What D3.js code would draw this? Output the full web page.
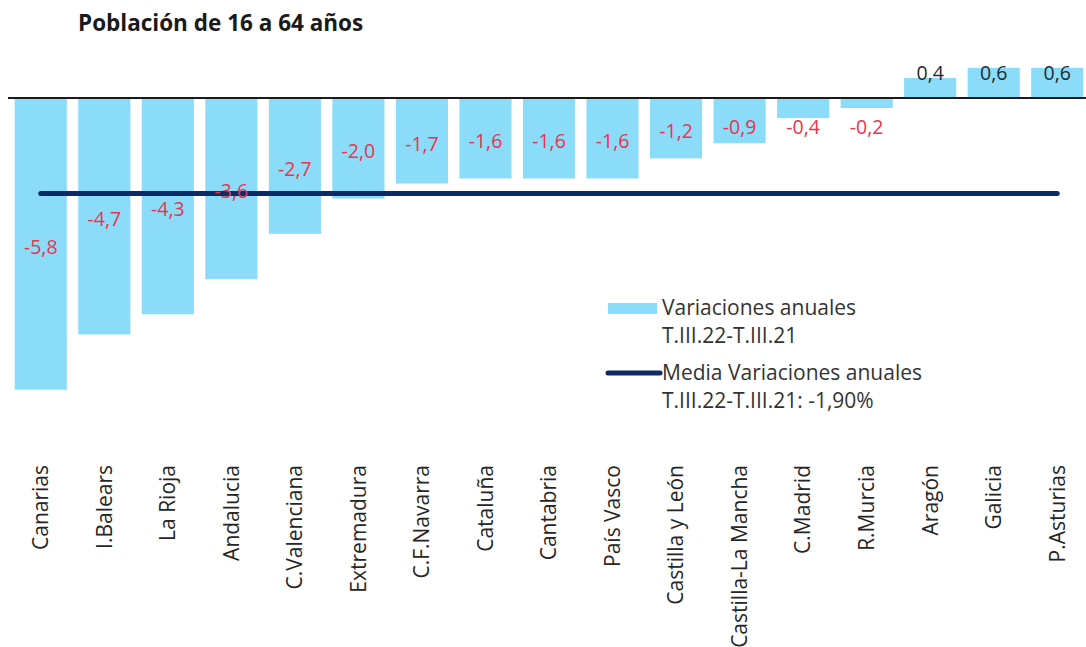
<!DOCTYPE html>
<html>
<head>
<meta charset="utf-8">
<script src="https://cdn.jsdelivr.net/npm/d3@7"></script>
<style>
    body { margin: 0; background: #fff; }
    text { font-family: "Open Sans", sans-serif; }
</style>
</head>
<body>
<script>
// Población de 16 a 64 años, variaciones anuales T.III.22-T.III.21
var regiones = ["Canarias", "I.Balears", "La Rioja", "Andalucia",
    "C.Valenciana", "Extremadura", "C.F.Navarra", "Cataluña", "Cantabria",
    "País Vasco", "Castilla y León", "Castilla-La Mancha", "C.Madrid",
    "R.Murcia", "Aragón", "Galicia", "P.Asturias"];
var variaciones = [-5.8, -4.7, -4.3, -3.6, -2.7, -2.0, -1.7, -1.6, -1.6,
    -1.6, -1.2, -0.9, -0.4, -0.2, 0.4, 0.6, 0.6];
var media = -1.9;
var legendLabels = [["Variaciones anuales", "T.III.22-T.III.21"],
    ["Media Variaciones anuales", "T.III.22-T.III.21: -1,90%"]];

var width = 1086, height = 647;

var svg = d3.select("body").append("svg")
    .attr("width", width)
    .attr("height", height);

// scales
var xScale = d3.scaleBand().domain(regiones)
    .range([9, 1089]).paddingInner(0.18).paddingOuter(0.09);
var yScale = d3.scaleLinear().domain([-6, 1]).range([399.8, 47.7]);
var y0 = yScale(0);
// spanish style: comma decimals, plain hyphen for the sign
var fmt = function(v) {
    return d3.format(".1f")(v).replace("\u2212", "-").replace(".", ",");
};

// title
svg.append("text")
    .attr("x", 78)
    .attr("y", 31)
    .attr("font-size", "22.5px")
    .attr("font-weight", "bold")
    .attr("fill", "#1a1a1a")
    .text("Población de 16 a 64 años");

// bars
svg.selectAll("rect.bar")
    .data(variaciones)
    .enter()
    .append("rect")
    .attr("class", "bar")
    .attr("x", function(d, i) { return xScale(regiones[i]); })
    .attr("y", function(d) { return Math.min(yScale(d), y0); })
    .attr("width", xScale.bandwidth())
    .attr("height", function(d) { return Math.abs(yScale(d) - y0); })
    .attr("fill", "#8adcf9");

// zero line
svg.append("line")
    .attr("x1", xScale.range()[0] - 1)
    .attr("x2", width)
    .attr("y1", y0)
    .attr("y2", y0)
    .attr("stroke", "#1a1a1a")
    .attr("stroke-width", 2);

// mean line
var first = regiones[0], last = regiones[regiones.length - 1];
svg.append("line")
    .attr("x1", xScale(first) + xScale.bandwidth() / 2)
    .attr("x2", xScale(last) + xScale.bandwidth() / 2)
    .attr("y1", yScale(media))
    .attr("y2", yScale(media))
    .attr("stroke", "#0c2a63")
    .attr("stroke-width", 5)
    .attr("stroke-linecap", "round");

// value labels: middle of bar, but kept off the zero line
svg.selectAll("text.val")
    .data(variaciones)
    .enter()
    .append("text")
    .attr("class", "val")
    .attr("x", function(d, i) {
        return xScale(regiones[i]) + xScale.bandwidth() / 2;
    })
    .attr("y", function(d) {
        if (d >= 0) return y0 - 25;
        return Math.max((y0 + yScale(d)) / 2 + 3, y0 + 29);
    })
    .attr("dy", "0.35em")
    .attr("text-anchor", "middle")
    .attr("font-size", "19.5px")
    .attr("fill", function(d) { return d < 0 ? "#e8344e" : "#1f2a36"; })
    .text(fmt);

// category axis
var xAxis = d3.axisBottom(xScale).tickSize(0);
var gx = svg.append("g")
    .attr("transform", "translate(0,465)")
    .call(xAxis);
gx.select(".domain").remove();
gx.selectAll("text")
    .attr("transform", "rotate(-90)")
    .attr("x", 0)
    .attr("y", 0)
    .attr("dy", "0.35em")
    .style("text-anchor", "end")
    .style("font-family", "'Open Sans', sans-serif")
    .style("font-size", "21px")
    .attr("fill", "#262626");

// legend
var leg = svg.append("g").attr("transform", "translate(608,0)");
leg.append("rect")
    .attr("x", 0).attr("y", 303)
    .attr("width", 49).attr("height", 11)
    .attr("fill", "#8adcf9");
leg.append("line")
    .attr("x1", 0).attr("x2", 52)
    .attr("y1", 373).attr("y2", 373)
    .attr("stroke", "#0c2a63")
    .attr("stroke-width", 5)
    .attr("stroke-linecap", "round");
var legY = [315, 380];
legendLabels.forEach(function(lines, k) {
    lines.forEach(function(t, j) {
        leg.append("text")
            .attr("x", 54)
            .attr("y", legY[k] + j * 28)
            .attr("font-size", "21px")
            .attr("fill", "#333")
            .text(t);
    });
});
</script>
</body>
</html>
